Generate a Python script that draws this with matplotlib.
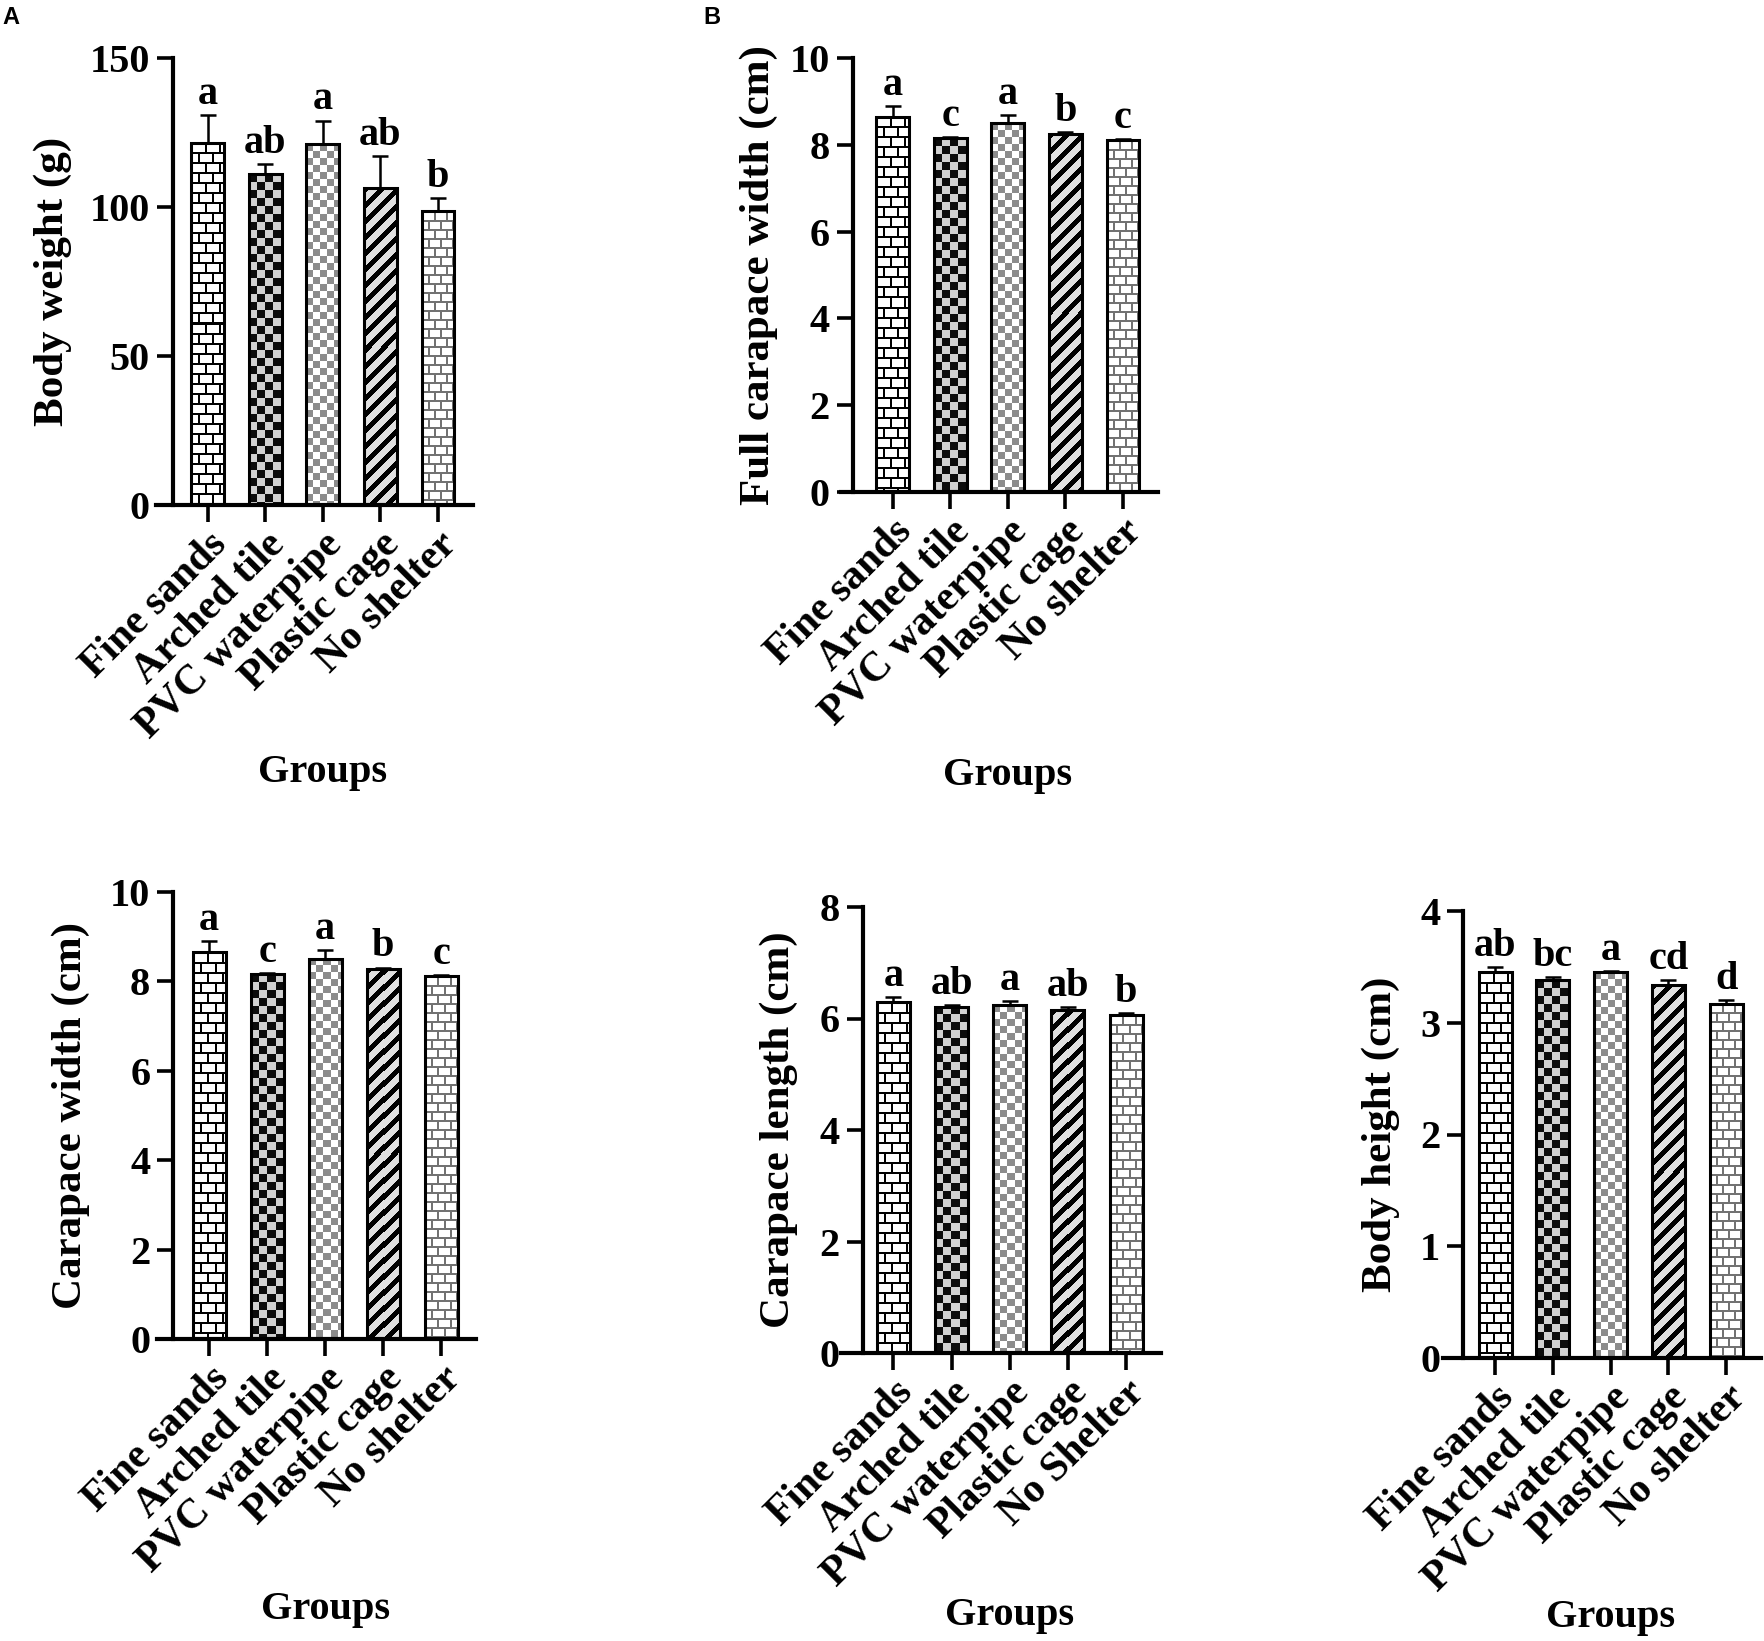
import numpy as np
import matplotlib
matplotlib.use('Agg')
import matplotlib.pyplot as plt
from matplotlib.transforms import ScaledTranslation, blended_transform_factory

groups = ['Fine sands', 'Arched tile', 'PVC waterpipe', 'Plastic cage', 'No shelter']
groupsLength = ['Fine sands', 'Arched tile', 'PVC waterpipe', 'Plastic cage', 'No Shelter']

bodyWeight = [121.5, 111.0, 121.0, 106.5, 98.5]
bodyWeightErr = [9.5, 3.5, 8.0, 10.5, 4.5]
bodyWeightLetters = ['a', 'ab', 'a', 'ab', 'b']

fullWidth = [8.65, 8.15, 8.50, 8.26, 8.11]
fullWidthErr = [0.25, 0.03, 0.19, 0.03, 0.03]
fullWidthLetters = ['a', 'c', 'a', 'b', 'c']

carapaceWidth = [8.65, 8.16, 8.51, 8.28, 8.11]
carapaceWidthErr = [0.26, 0.03, 0.20, 0.03, 0.03]
carapaceWidthLetters = ['a', 'c', 'a', 'b', 'c']

carapaceLength = [6.29, 6.21, 6.24, 6.15, 6.06]
carapaceLengthErr = [0.09, 0.03, 0.08, 0.06, 0.03]
carapaceLengthLetters = ['a', 'ab', 'a', 'ab', 'b']

bodyHeight = [3.45, 3.38, 3.45, 3.34, 3.17]
bodyHeightErr = [0.05, 0.03, 0.01, 0.04, 0.03]
bodyHeightLetters = ['ab', 'bc', 'a', 'cd', 'd']

patterns = ['brick', 'checkDark', 'checkLight', 'stripes', 'brickGrey']

W, H = 1764, 1641
DPI = 100
plt.rcParams['font.family'] = 'Liberation Serif'
plt.rcParams['font.weight'] = 'bold'

fig = plt.figure(figsize=(W / DPI, H / DPI), dpi=DPI)


def Texture(kind, w, h):
    yy, xx = np.mgrid[0:h, 0:w]
    img = np.ones((h, w, 3))
    if kind in ('brick', 'brickGrey'):
        rowH, brickW = (10, 14) if kind == 'brick' else (9, 12)
        ink = 0.0 if kind == 'brick' else 0.45
        shift = ((yy // rowH) % 2) * (brickW // 2)
        mortar = ((yy % rowH) < 2) | (((xx + shift) % brickW) < 2)
        img[mortar] = ink
    elif kind == 'checkDark':
        img[:] = 0.82
        img[((xx // 8) + (yy // 8)) % 2 == 0] = 0.05
    elif kind == 'checkLight':
        img[((xx // 7) + (yy // 7)) % 2 == 0] = 0.55
    elif kind == 'stripes':
        img[:] = 0.88
        img[((xx + yy) % 16) < 7] = 0.0
    return img


def DrawPanel(rect, values, errors, letters, labels, ylabel, ymax, ystep, spineX, labelX, groupsY):
    left, top, right, bottom = rect
    ax = fig.add_axes([left / W, 1 - bottom / H, (right - left) / W, (bottom - top) / H])
    ax.set_xlim(-0.9, 4.6)
    ax.set_ylim(0, ymax)
    x = np.arange(len(values))
    bars = ax.bar(x, values, width=0.57, facecolor='none', edgecolor='black',
                  linewidth=2.2, zorder=3)
    for bar, kind in zip(bars, patterns):
        bb = bar.get_window_extent()
        w = max(int(round(bb.width)), 1)
        h = max(int(round(bb.height)), 1)
        im = ax.imshow(Texture(kind, w, h),
                       extent=(bar.get_x(), bar.get_x() + bar.get_width(), 0, bar.get_height()),
                       aspect='auto', interpolation='nearest', zorder=2)
        im.set_clip_path(bar)
    ax.errorbar(x, values, yerr=[np.zeros(len(values)), errors], fmt='none', ecolor='black',
                elinewidth=1.8, capsize=5.5, capthick=1.8, zorder=4)
    for xi, v, e, s in zip(x, values, errors, letters):
        ax.annotate(s, (xi, v + e), xytext=(0, 8), textcoords='offset points',
                    ha='center', va='baseline', fontsize=29, fontweight='bold')
    ax.set_xlim(-0.9, 4.6)
    ax.set_ylim(0, ymax)

    ticks = np.arange(0, ymax + ystep / 2, ystep)
    ax.set_yticks(ticks)
    ax.set_yticklabels([str(int(t)) for t in ticks])
    ax.set_xticks(x)
    ax.set_xticklabels(labels, rotation=45, ha='right', va='top', rotation_mode='anchor')
    shift = ScaledTranslation(0.12, -0.06, fig.dpi_scale_trans)
    for lab in ax.get_xticklabels():
        lab.set_transform(lab.get_transform() + shift)
    ax.tick_params(axis='y', length=11.5, width=2.6, pad=5, labelsize=29)
    ax.tick_params(axis='x', length=12.5, width=2.6, pad=2, labelsize=30)

    for side in ('top', 'right'):
        ax.spines[side].set_visible(False)
    ax.spines['left'].set_position(('data', spineX))
    ax.spines['left'].set_bounds(0, ymax)
    ax.spines['left'].set_linewidth(3)
    ax.spines['bottom'].set_linewidth(3)

    ax.set_ylabel(ylabel, fontsize=31, fontweight='bold')
    ax.yaxis.set_label_coords(labelX, 0.5)

    trans = blended_transform_factory(ax.transData, ax.transAxes)
    ax.text(2, (bottom - groupsY) / (bottom - top), 'Groups', transform=trans,
            ha='center', va='center', fontsize=29, fontweight='bold')
    return ax


DrawPanel((156, 58, 472.5, 505), bodyWeight, bodyWeightErr, bodyWeightLetters, groups,
          'Body weight (g)', 150, 50, -0.61, -0.265, 773)
DrawPanel((841, 58, 1157.5, 492), fullWidth, fullWidthErr, fullWidthLetters, groups,
          'Full carapace width (cm)', 10, 2, -0.70, -0.199, 775)
DrawPanel((157, 892, 476, 1339), carapaceWidth, carapaceWidthErr, carapaceWidthLetters, groups,
          'Carapace width (cm)', 10, 2, -0.62, -0.21, 1609)
DrawPanel((841, 907, 1161, 1353), carapaceLength, carapaceLengthErr, carapaceLengthLetters,
          groupsLength, 'Carapace length (cm)', 8, 2, -0.53, -0.134, 1615)
DrawPanel((1443, 911, 1761, 1358), bodyHeight, bodyHeightErr, bodyHeightLetters, groups,
          'Body height (cm)', 4, 1, -0.55, -0.135, 1617)

fig.text(2 / W, 1 - 6 / H, 'A', family='Liberation Sans', fontweight='bold', fontsize=17, va='top')
fig.text(703 / W, 1 - 6 / H, 'B', family='Liberation Sans', fontweight='bold', fontsize=17, va='top')

fig.savefig('out.png', dpi=DPI)
